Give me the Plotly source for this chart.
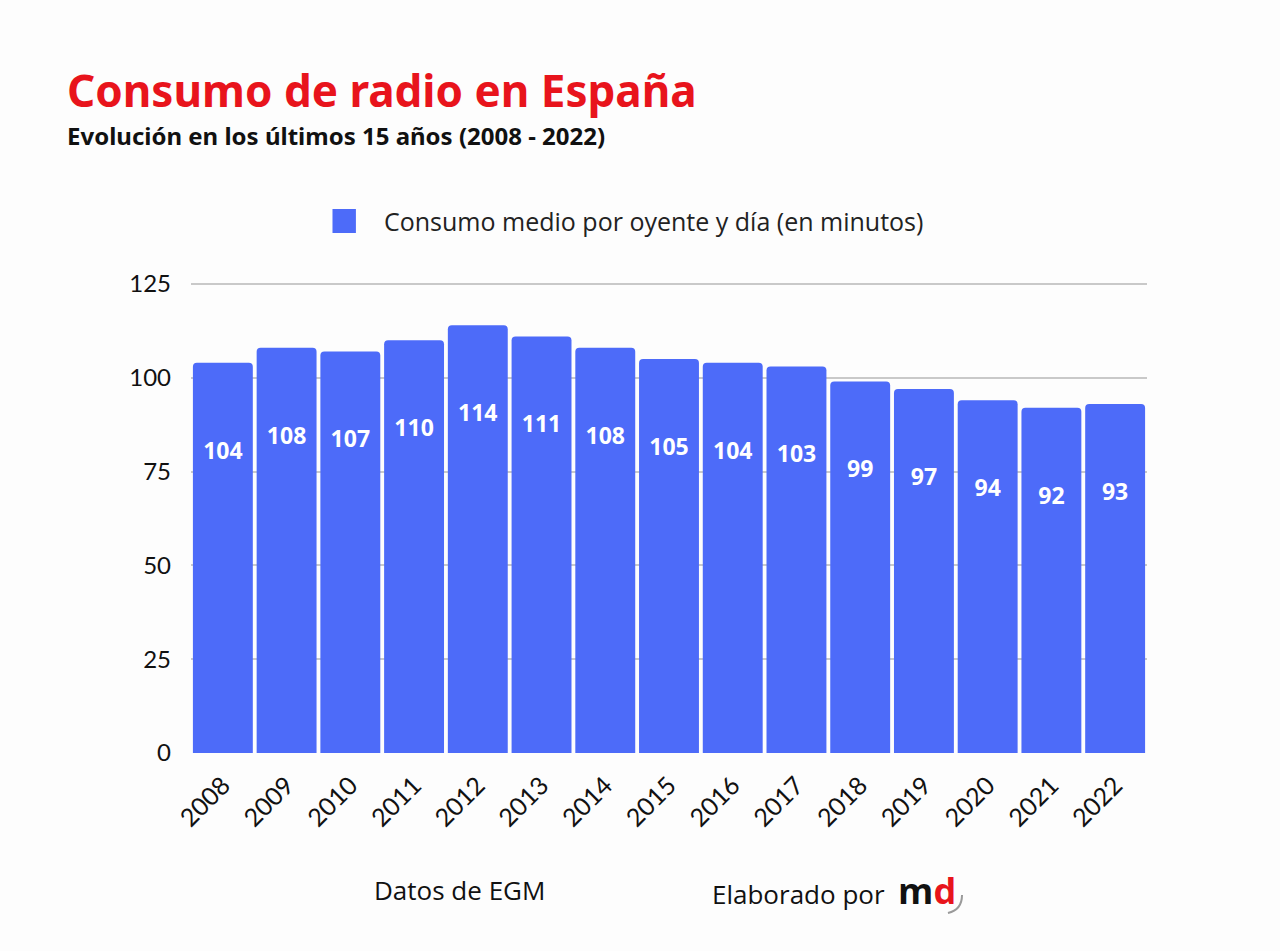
import plotly.graph_objects as go

years = ["2008", "2009", "2010", "2011", "2012", "2013", "2014", "2015",
         "2016", "2017", "2018", "2019", "2020", "2021", "2022"]
minutes = [104, 108, 107, 110, 114, 111, 108, 105, 104, 103, 99, 97, 94, 92, 93]
y_ticks = [0, 25, 50, 75, 100, 125]
series_name = "Consumo medio por oyente y día (en minutos)"

BAR = "#4d6bf9"
label_offset = 24

fig = go.Figure()
fig.add_trace(go.Bar(
    x=years, y=minutes, name=series_name,
    marker=dict(color=BAR, cornerradius=4, line=dict(width=0)),
    hoverinfo="skip", showlegend=False,
))
fig.add_trace(go.Scatter(
    x=years, y=[v - label_offset for v in minutes], mode="text",
    text=[str(v) for v in minutes], showlegend=False,
    textfont=dict(family="Open Sans", size=23, color="white", weight="bold"),
    hoverinfo="skip",
))

fig.update_layout(
    width=1280, height=951,
    paper_bgcolor="#fdfdfd", plot_bgcolor="#fdfdfd",
    margin=dict(l=191, r=133, t=282, b=198, autoexpand=False),
    bargap=0.06,
    xaxis=dict(tickangle=-45, tickfont=dict(family="Lato", size=25, color="#111"),
               showgrid=False, showline=False, ticks="", ticklabelstandoff=12,
               range=[-0.5, len(years) - 0.5]),
    yaxis=dict(range=[0, 125.5], tickvals=y_ticks, showgrid=True, gridcolor="#c9c9c9",
               gridwidth=1.5, zeroline=False, tickfont=dict(family="Lato", size=24, color="#111"),
               ticks="", ticklabelstandoff=19),
)

# legend (custom, larger swatch like the reference)
fig.add_shape(type="rect", xref="paper", yref="paper", x0=0.148, x1=0.1725, y0=1.104, y1=1.155,
              fillcolor=BAR, line=dict(width=0))
fig.add_annotation(xref="paper", yref="paper", x=0.2, y=1.1295, xanchor="left", yanchor="middle",
                   text=series_name, showarrow=False,
                   font=dict(family="Open Sans", size=25, color="#222"))

fig.add_annotation(xref="paper", yref="paper", x=-0.1318, y=1.4076, xanchor="left", yanchor="middle",
                   text="<b>Consumo de radio en España</b>", showarrow=False,
                   font=dict(family="Noto Sans", size=44, color="#e8141c"))
fig.add_annotation(xref="paper", yref="paper", x=-0.1318, y=1.31, xanchor="left", yanchor="middle",
                   text="<b>Evolución en los últimos 15 años (2008 - 2022)</b>", showarrow=False,
                   font=dict(family="Noto Sans", size=24, color="#111"))
fig.add_annotation(xref="paper", yref="paper", x=0.281, y=-0.291, xanchor="center", yanchor="middle",
                   text="Datos de EGM", showarrow=False,
                   font=dict(family="Open Sans", size=26, color="#111"))
fig.add_annotation(xref="paper", yref="paper", x=0.543, y=-0.291, xanchor="left", yanchor="middle",
                   text="Elaborado por  <b><span style='font-size:36px'>m</span><span style='font-size:36px;color:#e8141c'>d</span></b>",
                   showarrow=False,
                   font=dict(family="Open Sans", size=26, color="#111"))
# small swoosh of the logo
fig.add_shape(type="path", xref="paper", yref="paper",
              path="M 0.8065,-0.3015 Q 0.8065,-0.333 0.7918,-0.3397",
              line=dict(color="#9a9a9a", width=2))

fig.write_html("out.html", config={"displayModeBar": False},
               post_script="document.body.style.margin='0';")
